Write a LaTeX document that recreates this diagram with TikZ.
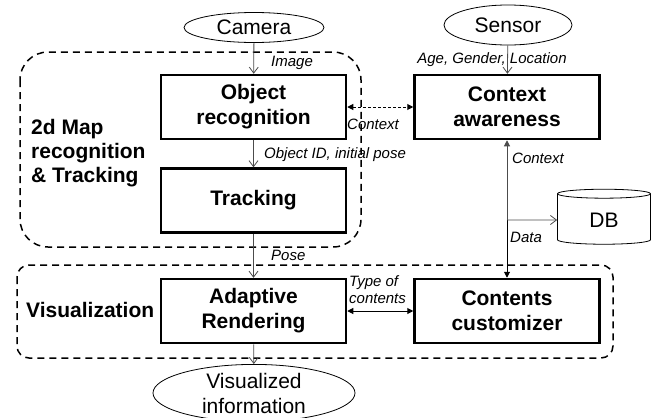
\documentclass[tikz,border=0pt]{standalone}
\usepackage{fontspec}
\setmainfont{Liberation Sans}
\usetikzlibrary{arrows.meta,positioning,shapes.geometric}
\tikzset{
  box/.style={draw, line width=2.5pt, minimum width=185pt, minimum height=64pt, align=center, font=\fontsize{21}{25}\selectfont\bfseries},
  src/.style={draw, ellipse, line width=0.8pt, inner sep=0pt, align=center, font=\fontsize{21}{25}\selectfont},
  grp/.style={draw, line width=1.5pt, dash pattern=on 7pt off 5pt},
  grplabel/.style={align=left, inner sep=0pt, font=\fontsize{21}{24}\selectfont\bfseries},
  lbl/.style={inner sep=0pt, align=left, font=\fontsize{15}{17}\selectfont\itshape},
  flow/.style={-{Straight Barb[length=6pt,width=9pt]}, gray!60!black, line width=0.8pt},
  both/.style={{Triangle[length=6pt,width=6pt]}-{Triangle[length=6pt,width=6pt]}, line width=1pt},
}
\begin{document}
\begin{tikzpicture}[x=1pt, y=-1pt]
  \useasboundingbox (0,0) rectangle (657,418);
  % dashed groups
  \draw[grp, rounded corners=28pt] (20,52) rectangle (361,247);
  \draw[grp, rounded corners=12pt] (17,265) rectangle (613,358);

  \node[box] (obj) at (253.5,107) {Object\\recognition};
  \node[box, below=27pt of obj] (track) {Tracking};
  \node[box, below=44pt of track] (render) {Adaptive\\Rendering};
  \node[box, right=66pt of obj] (ctx) {Context\\awareness};
  \node[box, right=66pt of render] (cust) {Contents\\customizer};

  \node[src, minimum width=140pt, minimum height=30pt] (cam) at (254,27.5) {Camera};
  \node[src, minimum width=128pt, minimum height=40pt] (sens) at (508,25) {Sensor};
  \node[src, minimum width=202pt, minimum height=52pt] (vis) at (254,393) {Visualized\\information};
  \node[cylinder, shape border rotate=90, draw, line width=0.8pt, aspect=0.25, minimum width=93pt, minimum height=55pt, font=\fontsize{21}{25}\selectfont] (db) at (604,220) {DB};
  \coordinate (junc) at (ctx.south |- db.west);

  \draw[flow] (cam) -- (obj);
  \draw[flow] (obj) -- (track);
  \draw[flow] (track) -- (render);
  \draw[flow] (render) -- (vis);
  \draw[flow] (sens) -- (ctx);
  \draw[both, dash pattern=on 3pt off 2pt] (obj) -- (ctx);
  \draw[gray!60!black, line width=1pt, -{Triangle[length=6pt,width=6pt]}] (junc) -- (ctx);
  \draw[line width=1pt, -{Triangle[length=6pt,width=6pt]}] (junc) -- (cust);
  \draw[flow] (junc) -- (db);
  \draw[both] (render) -- (cust);

  % labels
  \node[lbl, anchor=west] (limg) at (271,63) {Image};
  \node[lbl, anchor=west] (lid) at (264,155) {Object ID, initial pose};
  \node[lbl, anchor=west] (lpose) at (271,255) {Pose};
  \node[lbl] (lage) at (492,60) {Age, Gender, Location};
  \node[lbl, anchor=west] (lctx) at (347,124) {Context};
  \node[lbl, anchor=west] (lctxup) at (512,158) {Context};
  \node[lbl, anchor=west] (ldata) at (510,237) {Data};
  \node[lbl, anchor=west] (ltype) at (349,290) {Type of\\contents};
  \node[grplabel, anchor=west] (gmap) at (31,153) {2d Map\\recognition\\\& Tracking};
  \node[grplabel, anchor=west] (gvis) at (26,310) {Visualization};
\end{tikzpicture}
\end{document}
